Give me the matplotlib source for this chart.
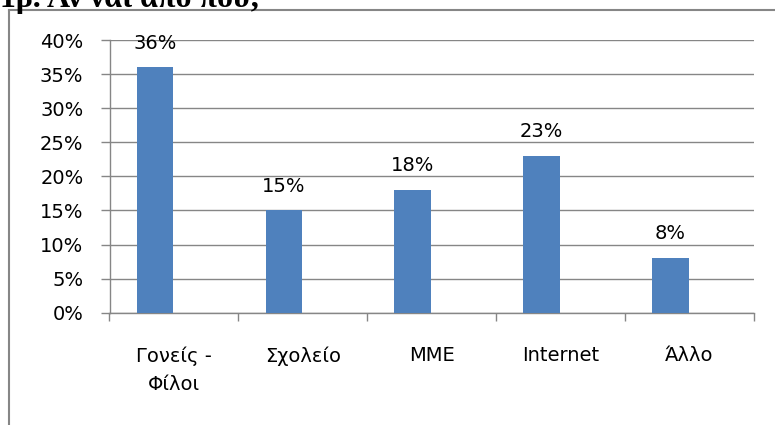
import matplotlib.pyplot as plt
from matplotlib.lines import Line2D
import numpy as np

# survey answers: where did you hear about it
categories = ["Γονείς -\nΦίλοι", "Σχολείο", "ΜΜΕ", "Internet", "Άλλο"]
percent = [36, 15, 18, 23, 8]
y_ticks = [0, 5, 10, 15, 20, 25, 30, 35, 40]
title = "1β. Αν ναι από πού;"

W, H = 775, 425
grey = "#868686"
bar_blue = "#4F81BD"

plt.rcParams['font.family'] = ['DejaVu Sans']

fig = plt.figure(figsize=(W / 100, H / 100), dpi=100)

# outer frame of the chart box (runs off the bottom and right edge)
fx, fy = 8.5 / W, 1 - 10 / H
fig.add_artist(Line2D([fx, fx], [fy, -0.05], transform=fig.transFigure, color=grey, lw=1.5))
fig.add_artist(Line2D([fx, 1.05], [fy, fy], transform=fig.transFigure, color=grey, lw=1.5))

# heading, mostly cut off above the page
fig.text(0.0, 1 - 7 / H, title, family='Liberation Serif', fontweight='bold',
         fontsize=23, ha='left', va='baseline')

ax = fig.add_axes([109.5 / W, 1 - 312.7 / H, (754 - 109.5) / W, (312.7 - 40) / H])

x = np.arange(len(categories))
offset = -0.147
bars = ax.bar(x + offset, percent, width=0.284, color=bar_blue, zorder=3)

for xi, v in zip(x, percent):
    ax.annotate(f"{v}%", (xi + offset, v), xytext=(0, 13.5), textcoords='offset points',
                ha='center', va='baseline', fontsize=14)

ax.set_xlim(-0.5, len(categories) - 0.5)
ax.set_ylim(0, 40)
ax.set_yticks(y_ticks)
ax.set_yticklabels([f"{t}%" for t in y_ticks], fontsize=14)
ax.set_xticks(x)
ax.set_xticklabels(categories, fontsize=14, linespacing=1.65)
ax.set_xticks(np.arange(-0.5, len(categories)), minor=True)

ax.yaxis.grid(True, color=grey, lw=1.0, zorder=0)
ax.tick_params(axis='y', direction='out', length=6.8, width=1.0, color=grey, pad=12)
ax.tick_params(axis='x', which='major', length=0, pad=24)
ax.tick_params(axis='x', which='minor', direction='out', length=5.8, width=1.0, color=grey)

for side in ['top', 'right']:
    ax.spines[side].set_visible(False)
for side in ['left', 'bottom']:
    ax.spines[side].set_color(grey)
    ax.spines[side].set_linewidth(1.0)
ax.set_axisbelow(True)

fig.savefig("out.png", dpi=100)
